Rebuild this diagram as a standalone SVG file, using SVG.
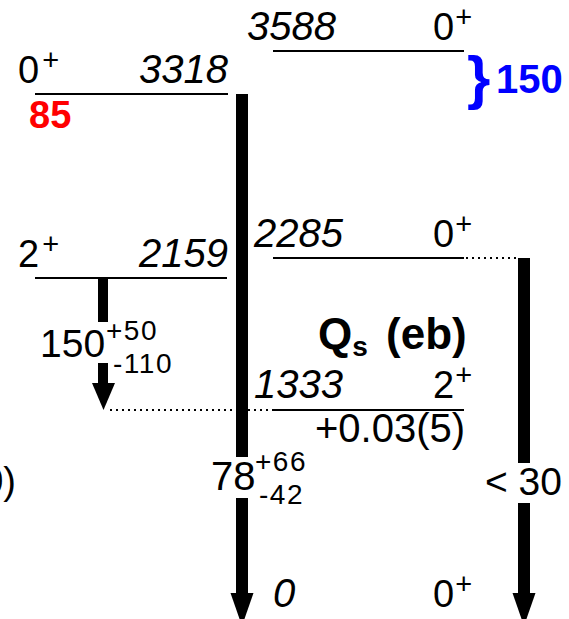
<svg xmlns="http://www.w3.org/2000/svg" width="569" height="619" viewBox="0 0 569 619">
<style>
text{font-family:"Liberation Sans",Arial,sans-serif;fill:#000}
.t{font-size:38px}
.i{font-size:40px;font-style:italic}
.s{font-size:28px;letter-spacing:1.5px}
.p{font-size:29px}
.b{font-weight:bold}
.lvl{stroke:#000;stroke-width:2;fill:none}
.dot{stroke:#000;stroke-width:2;stroke-dasharray:2 4;fill:none}
.ar{fill:#000}
</style>
<rect width="569" height="619" fill="#fff"/>
<g id="level-3318">
<line class="lvl" x1="35" y1="94" x2="228" y2="94"/>
<text class="t" x="18" y="83">0<tspan class="p" dx="3" dy="-13">+</tspan></text>
<text class="i" x="228" y="83" text-anchor="end">3318</text>
<text class="t b" x="29" y="128" style="fill:#ff0000">85</text>
</g>
<g id="level-3588">
<line class="lvl" x1="273" y1="51" x2="464" y2="51"/>
<text class="i" x="247" y="40">3588</text>
<text class="t" x="433" y="40">0<tspan class="p" dx="1" dy="-13">+</tspan></text>
<text class="b" x="467" y="98" style="font-size:60px;fill:#0000ff">}</text>
<text class="t b" x="496" y="93" style="font-size:40px;fill:#0000ff">150</text>
</g>
<g id="level-2159">
<line class="lvl" x1="35" y1="278" x2="227" y2="278"/>
<text class="t" x="18" y="267">2<tspan class="p" dx="3" dy="-13">+</tspan></text>
<text class="i" x="228" y="267" text-anchor="end">2159</text>
</g>
<g id="level-2285">
<line class="lvl" x1="273" y1="258" x2="464" y2="258"/>
<text class="i" x="254" y="247">2285</text>
<text class="t" x="433" y="247">0<tspan class="p" dx="1" dy="-13">+</tspan></text>
</g>
<g id="level-1333">
<line class="lvl" x1="273" y1="410" x2="464" y2="410"/>
<text class="i" x="254" y="398">1333</text>
<text class="t" x="433" y="398">2<tspan class="p" dx="1" dy="-13">+</tspan></text>
<text class="t" x="315" y="442" style="font-size:40px">+0.03(5)</text>
</g>
<g id="level-0">
<text class="i" x="273" y="607">0</text>
<text class="t" x="433" y="607">0<tspan class="p" dx="1" dy="-13">+</tspan></text>
</g>
<g id="qs-label">
<text class="b" x="318" y="349" style="font-size:44px">Q<tspan style="font-size:28px" dy="7">s</tspan><tspan dx="6" dy="-7"> (eb)</tspan></text>
</g>
<g id="edge-label">
<text class="t" x="16" y="494" text-anchor="end">0)</text>
</g>
<g id="connectors">
<line class="dot" x1="110" y1="410" x2="273" y2="410"/>
<line class="dot" x1="466" y1="258" x2="518" y2="258"/>
<rect class="ar" x="236" y="94" width="12" height="363"/>
<rect class="ar" x="236" y="498" width="12" height="96"/>
<polygon class="ar" points="230.5,593 253.5,593 242,626"/>
<text class="t" x="211" y="490" style="font-size:40px">78</text>
<text class="s" x="255" y="471">+66</text>
<text class="s" x="259" y="504">-42</text>
<rect class="ar" x="518" y="258" width="12" height="205"/>
<rect class="ar" x="518" y="503" width="12" height="91"/>
<polygon class="ar" points="512.5,593 535.5,593 524,626"/>
<text class="t" x="485" y="495" style="font-size:39px">&lt; 30</text>
<rect class="ar" x="98" y="278" width="10" height="44"/>
<rect class="ar" x="98" y="363" width="10" height="21"/>
<polygon class="ar" points="92,383 115,383 103.5,410"/>
<text class="t" x="40" y="357" style="font-size:39px">150</text>
<text class="s" x="106" y="340">+50</text>
<text class="s" x="113" y="373">-110</text>
</g>
</svg>
